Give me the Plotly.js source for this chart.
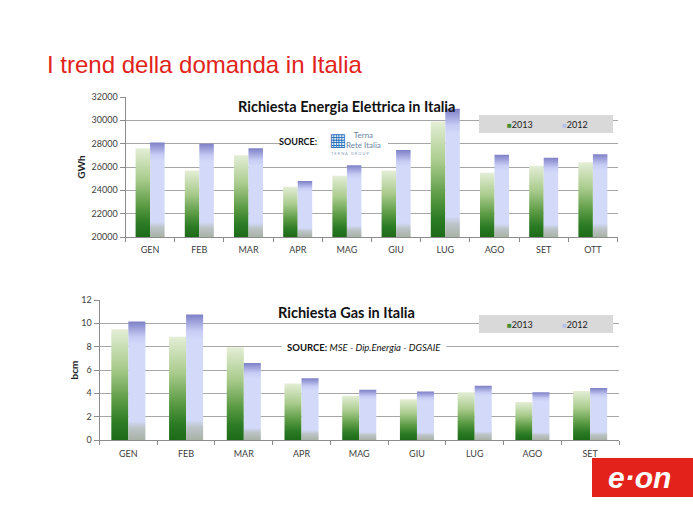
<!DOCTYPE html>
<html>
<head>
<meta charset="utf-8">
<script src="https://cdn.plot.ly/plotly-3.0.1.min.js"></script>
<style>
html, body { margin: 0; padding: 0; background: #fff; }
#chart { width: 693px; height: 520px; }
</style>
</head>
<body>
<div id="chart"></div>
<script>
const W = 693, H = 520;
const px = v => v / W;
const py = v => 1 - v / H;

// electricity demand (GWh)
const elecMonths = ['GEN', 'FEB', 'MAR', 'APR', 'MAG', 'GIU', 'LUG', 'AGO', 'SET', 'OTT'];
const elec2013 = [27600, 25700, 27000, 24300, 25250, 25700, 29900, 25500, 26100, 26400];
const elec2012 = [28100, 28000, 27600, 24800, 26150, 27450, 31000, 27050, 26800, 27100];
const elecTicks = [20000, 22000, 24000, 26000, 28000, 30000, 32000];
const elecBase = 20000;

// gas demand (bcm)
const gasMonths = ['GEN', 'FEB', 'MAR', 'APR', 'MAG', 'GIU', 'LUG', 'AGO', 'SET'];
const gas2013 = [9.5, 8.85, 7.95, 4.85, 3.8, 3.5, 4.1, 3.25, 4.2];
const gas2012 = [10.15, 10.75, 6.6, 5.3, 4.3, 4.15, 4.65, 4.1, 4.45];
const gasTicks = [0, 2, 4, 6, 8, 10, 12];

const FONT = 'Lato, "Open Sans", sans-serif';
const tickFont = {family: FONT, size: 9, color: '#404040'};
const col2013 = '#3f8c32';
const col2012 = '#cfd5f7';

function bars(name, x, vals, xa, ya, color, base) {
    return {
        type: 'bar',
        name: name,
        x: x,
        y: base ? vals.map(v => v - base) : vals,
        base: base || 0,
        customdata: vals,
        hovertemplate: '%{customdata}<extra>' + name + '</extra>',
        xaxis: xa,
        yaxis: ya,
        showlegend: false,
        marker: {color: color, line: {width: 0}},
    };
}

let data = [
    bars('2013', elecMonths, elec2013, 'x', 'y', col2013, elecBase),
    bars('2012', elecMonths, elec2012, 'x', 'y', col2012, elecBase),
    bars('2013', gasMonths, gas2013, 'x2', 'y2', col2013, 0),
    bars('2012', gasMonths, gas2012, 'x2', 'y2', col2012, 0),
];

function xAxis(domain, anchor, standoff) {
    return {
        domain: domain,
        anchor: anchor,
        tickfont: tickFont,
        ticklabelstandoff: standoff,
        showline: true,
        linecolor: '#8c8c8c',
        ticks: 'outside',
        tickson: 'boundaries',
        ticklen: 4,
        tickcolor: '#8c8c8c',
        showgrid: false,
        fixedrange: true,
    };
}

function yAxis(domain, anchor, range, ticks, title, standoff) {
    return {
        domain: domain,
        anchor: anchor,
        range: range,
        tickvals: ticks,
        tickformat: 'd',
        tickfont: tickFont,
        showline: true,
        linecolor: '#8c8c8c',
        ticks: 'outside',
        ticklen: 5,
        tickcolor: '#8c8c8c',
        gridcolor: '#a6a6a6',
        zeroline: false,
        fixedrange: true,
        title: {text: title, font: {family: FONT, size: 10, color: '#222', weight: 'bold'}, standoff: standoff},
    };
}

// legend drawn as text inside the grey boxes
function legendNotes(y) {
    const base = {xref: 'paper', yref: 'paper', y: py(y), yanchor: 'middle', xanchor: 'left',
                  showarrow: false, font: {family: FONT, size: 9, color: '#222'}};
    return [
        Object.assign({}, base, {x: px(505),
            text: '<span style="color:' + col2013 + ';font-size:8px">■</span>2013'}),
        Object.assign({}, base, {x: px(560),
            text: '<span style="color:#b8c0ee;font-size:8px">■</span>2012'}),
    ];
}

let layout = {
    width: W,
    height: H,
    margin: {l: 0, r: 0, t: 0, b: 0},
    paper_bgcolor: '#fff',
    plot_bgcolor: '#fff',
    showlegend: false,
    barmode: 'group',
    bargap: 0.41,
    bargroupgap: 0,

    xaxis: xAxis([px(125.5), px(617.5)], 'y', 4),
    yaxis: yAxis([py(237), py(97)], 'x', [20000, 32000], elecTicks, 'GWh', 4),
    xaxis2: xAxis([px(99.5), px(619)], 'y2', 5),
    yaxis2: yAxis([py(440), py(300)], 'x2', [0, 12], gasTicks, 'bcm', 0),

    shapes: [
        // grey legend boxes
        {type: 'rect', xref: 'paper', yref: 'paper', layer: 'above',
         x0: px(479), x1: px(613), y0: py(133), y1: py(115),
         fillcolor: '#d9d9d9', line: {width: 0}},
        {type: 'rect', xref: 'paper', yref: 'paper', layer: 'above',
         x0: px(479), x1: px(613), y0: py(333), y1: py(315),
         fillcolor: '#d9d9d9', line: {width: 0}},
        // white patch behind the first source note
        {type: 'rect', xref: 'paper', yref: 'paper', layer: 'above',
         x0: px(281), x1: px(388), y0: py(157), y1: py(130),
         fillcolor: '#fff', line: {width: 0}},
        // E.ON logo block
        {type: 'rect', xref: 'paper', yref: 'paper',
         x0: px(592), x1: px(693), y0: py(497), y1: py(458),
         fillcolor: '#e3231b', line: {width: 0}},
    ],

    annotations: [
        {
            xref: 'paper', yref: 'paper', x: px(45), y: py(64),
            xanchor: 'left', yanchor: 'middle', showarrow: false,
            text: 'I trend della domanda in Italia',
            font: {family: '"Liberation Sans", Arial, sans-serif', size: 24, color: '#e2231a'},
        },
        {
            xref: 'paper', yref: 'paper', x: px(346), y: py(107),
            xanchor: 'center', yanchor: 'middle', showarrow: false,
            text: '<b>Richiesta Energia Elettrica in Italia</b>',
            font: {family: FONT, size: 14.5, color: '#111'},
        },
        {
            xref: 'paper', yref: 'paper', x: px(319), y: py(142),
            xanchor: 'right', yanchor: 'middle', showarrow: false,
            text: '<b>SOURCE:</b>',
            font: {family: FONT, size: 9, color: '#111'},
        },
        {
            xref: 'paper', yref: 'paper', x: px(327), y: py(140),
            xanchor: 'left', yanchor: 'middle', showarrow: false,
            text: '▦',
            font: {family: 'DejaVu Sans', size: 18, color: '#2f76c0'},
        },
        {
            xref: 'paper', yref: 'paper', x: px(344), y: py(140),
            xanchor: 'left', yanchor: 'middle', showarrow: false,
            text: 'Terna<br>Rete Italia',
            font: {family: FONT, size: 8, color: '#6d86a8'},
        },
        {
            xref: 'paper', yref: 'paper', x: px(329), y: py(153),
            xanchor: 'left', yanchor: 'middle', showarrow: false,
            text: 'T E R N A   G R O U P',
            font: {family: FONT, size: 4, color: '#8da0b8'},
        },
        {
            xref: 'paper', yref: 'paper', x: px(346), y: py(312),
            xanchor: 'center', yanchor: 'middle', showarrow: false,
            text: '<b>Richiesta Gas in Italia</b>',
            font: {family: FONT, size: 14.5, color: '#111'},
        },
        {
            xref: 'paper', yref: 'paper', x: px(364), y: py(347),
            xanchor: 'center', yanchor: 'middle', showarrow: false,
            text: '<b>SOURCE:</b> <i>MSE - Dip.Energia - DGSAIE</i>',
            font: {family: FONT, size: 9.5, color: '#111'},
            bgcolor: '#fff', borderpad: 5,
        },
        {
            xref: 'paper', yref: 'paper', x: px(639), y: py(477),
            xanchor: 'center', yanchor: 'middle', showarrow: false,
            text: 'e·on',
            font: {family: '"Liberation Sans", Arial, sans-serif', size: 30, color: '#fff', weight: 'bold', style: 'italic'},
        },
    ].concat(legendNotes(124), legendNotes(324)),
};

let config = {
    staticPlot: true,
};

// vertical fills like the office chart style
const gradients = {
    grad2013: [[0, '#e4eed6'], [0.35, '#a9cb8c'], [0.65, '#5a9a43'], [0.85, '#2b7a24'], [1, '#1d6b18']],
    grad2012: [[0, '#7e80c6'], [0.13, '#c6ccf4'], [0.2, '#d3daf9'], [0.84, '#d3daf9'], [0.9, '#bcc4c8'], [1, '#a8b2a6']],
};

function applyGradients(div) {
    const ns = 'http://www.w3.org/2000/svg';
    const svg = div.querySelector('svg.main-svg');
    let defs = svg.querySelector('defs');
    for (const id in gradients) {
        const g = document.createElementNS(ns, 'linearGradient');
        g.setAttribute('id', id);
        g.setAttribute('x1', '0'); g.setAttribute('y1', '0');
        g.setAttribute('x2', '0'); g.setAttribute('y2', '1');
        gradients[id].forEach(s => {
            const stop = document.createElementNS(ns, 'stop');
            stop.setAttribute('offset', s[0]);
            stop.setAttribute('stop-color', s[1]);
            g.appendChild(stop);
        });
        defs.appendChild(g);
    }
    div.querySelectorAll('g.trace.bars').forEach(t => {
        const cd = t.__data__;
        const name = cd && cd[0] && cd[0].trace ? cd[0].trace.name : '';
        const id = name === '2013' ? 'grad2013' : 'grad2012';
        t.querySelectorAll('path').forEach(p => { p.style.fill = 'url(#' + id + ')'; });
    });
}

const div = document.getElementById('chart');
Plotly.newPlot(div, data, layout, config).then(() => applyGradients(div));
</script>
</body>
</html>
